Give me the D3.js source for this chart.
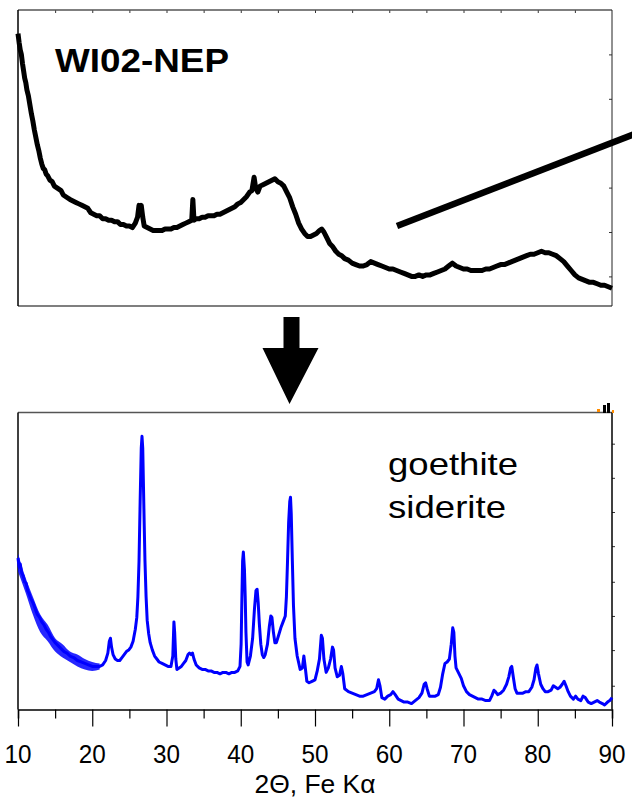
<!DOCTYPE html>
<html lang="en">
  <head>
    <meta charset="utf-8">
    <title>WI02-NEP XRD</title>
    <script src="https://d3js.org/d3.v7.min.js"></script>
    <style>
      body { margin: 0; background: #fff; }
      text { font-family: "Liberation Sans", Arial, sans-serif; }
    </style>
  </head>
  <body>
    <div id="chart"></div>
    <script type="text/javascript">
      // top pattern (black), 2theta vs intensity (relative units)
      const topTheta = [10.0,10.15,10.3,10.45,10.6,10.75,10.9,11.05,11.2,11.4,11.6,11.8,12.0,12.2,12.4,12.6,12.8,13.0,13.2,13.4,13.6,13.8,14.0,14.3,14.6,14.9,15.2,15.5,15.8,16.1,16.4,16.7,17.0,17.4,17.8,18.2,18.6,19.0,19.4,19.8,20.2,20.6,21.0,21.4,21.8,22.2,22.6,23.0,23.4,23.8,24.2,24.6,25.0,25.4,25.8,26.1,26.3,26.45,26.6,26.8,27.0,27.4,27.8,28.2,28.6,29.0,29.4,29.8,30.2,30.6,31.0,31.4,31.8,32.2,32.6,33.0,33.4,33.55,33.7,34.0,34.4,34.8,35.2,35.6,36.0,36.4,36.8,37.2,37.6,38.0,38.4,38.8,39.2,39.6,40.0,40.4,40.8,41.2,41.5,41.8,42.0,42.3,42.6,43.0,43.4,43.8,44.2,44.6,45.0,45.4,45.8,46.2,46.6,47.0,47.4,47.8,48.2,48.6,49.0,49.4,49.8,50.2,50.6,50.9,51.2,51.6,52.0,52.4,52.8,53.2,53.6,54.0,54.5,55.0,55.5,56.0,56.5,57.0,57.5,58.0,58.5,59.0,59.5,60.0,60.5,61.0,61.5,62.0,62.5,63.0,63.5,64.0,64.5,65.0,65.5,66.0,66.5,67.0,67.5,68.0,68.5,69.0,69.5,70.0,70.5,71.0,71.5,72.0,72.5,73.0,73.5,74.0,74.5,75.0,75.5,76.0,76.5,77.0,77.5,78.0,78.5,79.0,79.5,80.0,80.5,81.0,81.5,82.0,82.5,83.0,83.5,84.0,84.5,85.0,85.5,86.0,86.5,87.0,87.5,88.0,88.5,89.0,89.5,90.0];
      const topCounts = [92,89,86.5,85,82,79.5,77,75.5,73,71,68,65,62.5,59.5,57,54.5,52.5,50,48,46.5,46,44.5,44,42.5,42,40.5,40,39.5,39,37.5,37,36.5,36,35.5,35,34.5,34,33.5,33,31.5,31,30.5,30.5,29.5,29.5,29,29,28.5,28.5,27.5,27.5,27,27,26.5,28,30,34,32,34,30,27,26.5,26,25.5,25.5,25.5,25.5,26,26,26,26.5,26.5,27,27.5,28,28.5,29,36,29,29.5,29.5,30,30,30.5,30.5,30.5,31,31,31.5,32,32.5,33,33.5,34.5,35,36,37,38.5,39,43.5,40,38.5,40.5,41,41.5,42,42.5,43,42,41.5,40.5,38.5,36.5,33.5,31,28,26,24.5,23.5,23.5,24,24.5,25.5,26,25,23,21,20,18.5,17.5,17,16,15.5,14.5,14,13.5,13.5,14,15,14.5,14,13.5,13,12.5,12.5,12,11.5,11,10.5,10,10,10.5,10,10.5,10.5,11,11.5,12,12.5,13.5,14.5,13.5,13,12.5,12.5,12,12,12,12,12.5,12.5,13,13.5,14,14,14.5,15,15.5,16,16.5,17,17.5,17.5,18,18.5,18,18,17.5,17,16,15,13.5,12,10.5,9.5,9,8.5,8,8,7.5,7,7,6.5,6];

      // bottom pattern (blue)
      const botTheta = [10.0,10.15,10.3,10.5,10.7,10.9,11.1,11.3,11.5,11.7,12.0,12.3,12.6,12.9,13.2,13.5,13.8,14.1,14.4,14.7,15.0,15.4,15.8,16.2,16.6,17.0,17.5,18.0,18.5,19.0,19.5,20.0,20.5,21.0,21.4,21.8,22.1,22.3,22.45,22.6,22.8,23.1,23.4,23.7,24.0,24.3,24.6,24.9,25.2,25.5,25.8,26.0,26.15,26.3,26.45,26.6,26.7,26.8,26.9,27.0,27.1,27.25,27.4,27.6,27.8,28.1,28.4,28.7,29.0,29.4,29.8,30.2,30.6,30.85,31.0,31.1,31.25,31.4,31.7,32.0,32.3,32.6,32.9,33.1,33.3,33.5,33.7,34.0,34.4,34.8,35.2,35.6,36.0,36.4,36.8,37.2,37.6,38.0,38.4,38.8,39.2,39.6,39.9,40.05,40.15,40.25,40.35,40.5,40.6,40.7,40.85,41.0,41.3,41.6,41.85,42.05,42.2,42.35,42.5,42.7,42.9,43.1,43.3,43.6,43.85,44.05,44.2,44.4,44.6,44.8,45.1,45.4,45.7,46.0,46.15,46.3,46.45,46.6,46.7,46.8,46.95,47.1,47.3,47.6,48.0,48.3,48.5,48.65,48.9,49.2,49.6,50.0,50.3,50.6,50.85,51.0,51.2,51.5,51.8,52.1,52.35,52.5,52.7,53.0,53.3,53.55,53.75,54.0,54.5,55.0,55.5,56.0,56.5,57.0,57.5,58.0,58.3,58.55,58.75,59.0,59.4,59.8,60.2,60.5,60.8,61.2,61.6,62.0,62.5,63.0,63.5,64.0,64.4,64.7,64.9,65.1,65.4,65.8,66.2,66.6,66.9,67.2,67.5,67.8,68.1,68.35,68.55,68.7,68.85,69.0,69.2,69.4,69.7,70.0,70.4,70.8,71.2,71.6,72.0,72.5,73.0,73.5,73.8,74.1,74.3,74.6,75.0,75.4,75.8,76.1,76.35,76.5,76.7,76.95,77.2,77.6,78.0,78.4,78.8,79.2,79.5,79.75,79.9,80.1,80.4,80.7,81.0,81.4,81.8,82.1,82.4,82.7,83.0,83.3,83.55,83.8,84.1,84.4,84.8,85.1,85.4,85.8,86.1,86.4,86.8,87.2,87.6,88.0,88.3,88.7,89.0,89.4,89.7,90.0];
      const botCounts = [51,48,49,46,45,43,42.5,40,39,37.5,36,34,32,31,29.5,28.5,27,26,24.5,23.5,22.5,21.5,20.5,19.5,19,18,17.5,16.5,16,15.5,15,14.5,14.5,14.5,15,16.5,19,23,24,21,18.5,17,16.5,16.5,17.5,18.5,19.5,20,21,23,27,31,38,50,70,88,92,88,75,62,50,38,30,25.5,22.5,20,18,17,16,15.5,15,14.5,14.5,18,29.5,26,17,13.5,14,14.5,15.5,16.5,18.5,19,18.5,19,17,15,14,13.5,13.5,13,13,12.5,12.5,12,12.5,12.5,12,12.5,12.5,13,14.5,22,37,50,53,47,38,26,16,15,18,24,34,40,40.5,36,29,22,18.5,17.5,18.5,22,28,31.5,31,26,22.5,22.5,25,27.5,29.5,31.5,38,50,63,70,71.5,66,50,35,24,18,13.5,14,18,15,9.5,9,9.5,10,13,17,25,24,17,12.5,14,17,21,20,14,11,11.5,14.5,12,7,6,5.5,5,4.5,4.5,5,5.5,6,7,10,8,4,3.5,4.5,5,6,5,3.5,3,2.5,2.5,2,3,4,5.5,8.5,9,7,4.5,4.5,4.5,5,7.5,12,15.5,16,17,22,27.5,26,18,14,13,12,10.5,8,6,5,4.5,4,3.5,3.5,3,3,4.5,6.5,6,5,5.5,6.5,8.5,11,14,14.5,11,7,5.5,5.5,5.5,6,6,7.5,10,14,15,12,8.5,7,6,6,6.5,8,7.5,7,7.5,8.5,9.5,8,6,4.5,3.5,4.5,3.5,3,4.5,4,2.5,2,2.5,3,2.5,2,1.5,2.5,3,4];

      // spread of the noisy low-angle tail of the blue pattern
      const botBandTheta = [10, 11, 12, 13, 14, 15, 16, 17, 18, 19, 20, 21];
      const botBandHi = [52.5, 44.5, 38, 32, 28.5, 24, 22, 19.5, 18.5, 17, 16, 15.5];
      const botBandLo = [46.5, 39.5, 32, 26, 23, 19.5, 17.5, 16, 14.5, 13.5, 13, 13.5];

      const xTicks = [10, 15, 20, 25, 30, 35, 40, 45, 50, 55, 60, 65, 70, 75, 80, 85, 90];
      const xLabels = [10, 20, 30, 40, 50, 60, 70, 80, 90];

      const W = 632, H = 800;
      const svg = d3.select("#chart").append("svg")
          .attr("width", W)
          .attr("height", H);

      const x = d3.scaleLinear().domain([10, 90]).range([18, 612]);
      const yTop = d3.scaleLinear().domain([0, 100]).range([306, 10]);
      const yBot = d3.scaleLinear().domain([0, 100]).range([709.5, 412.5]);

      // ---- top panel ----
      const topPanel = svg.append("g");

      topPanel.append("g")
          .attr("transform", "translate(0,10)")
          .call(d3.axisBottom(x).tickValues(xTicks.slice(1, -1)).tickSize(3).tickFormat(""))
          .call(g => g.select(".domain").remove())
          .selectAll("line").attr("stroke", "#333");

      topPanel.append("g")
          .attr("transform", "translate(612,0)")
          .call(d3.axisLeft(yTop).tickValues([10, 25, 40, 55, 70, 85]).tickSize(3).tickFormat(""))
          .call(g => g.select(".domain").remove())
          .selectAll("line").attr("stroke", "#333");

      topPanel.append("line").attr("x1", 18).attr("x2", 612).attr("y1", 10).attr("y2", 10)
          .attr("stroke", "#555").attr("stroke-width", 1.5);
      topPanel.append("line").attr("x1", 18).attr("x2", 612).attr("y1", 306).attr("y2", 306)
          .attr("stroke", "#555").attr("stroke-width", 1.5);
      topPanel.append("line").attr("x1", 18).attr("x2", 18).attr("y1", 10).attr("y2", 306)
          .attr("stroke", "#000").attr("stroke-width", 1.5);
      topPanel.append("line").attr("x1", 612).attr("x2", 612).attr("y1", 10).attr("y2", 306)
          .attr("stroke", "#222").attr("stroke-width", 1);

      const lineTop = d3.line()
          .x((d, i) => x(topTheta[i]))
          .y(d => yTop(d));

      topPanel.append("path")
          .datum(topCounts)
          .attr("fill", "none")
          .attr("stroke", "#000")
          .attr("stroke-width", 5)
          .attr("stroke-linejoin", "round")
          .attr("d", lineTop);

      topPanel.append("text")
          .attr("x", 55)
          .attr("y", 72)
          .attr("font-size", 34)
          .attr("font-weight", "bold")
          .attr("textLength", 174)
          .attr("lengthAdjust", "spacingAndGlyphs")
          .text("WI02-NEP");

      // thick pointer line running off the right edge
      svg.append("line")
          .attr("x1", 397).attr("y1", 226)
          .attr("x2", 650).attr("y2", 128)
          .attr("stroke", "#000")
          .attr("stroke-width", 6.5);

      // arrow between panels
      svg.append("path")
          .attr("d", "M283.5,317 L299.5,317 L299.5,348 L318.5,348 L289.5,404 L262.5,348 L283.5,348 Z")
          .attr("fill", "#000");

      // ---- bottom panel ----
      const botPanel = svg.append("g");

      botPanel.append("g")
          .attr("transform", "translate(612,0)")
          .call(d3.axisRight(yBot).tickValues([8, 20, 31.5, 43, 55, 66.5, 78, 89.5]).tickSize(3).tickFormat(""))
          .call(g => g.select(".domain").remove())
          .selectAll("line").attr("stroke", "#333");

      botPanel.append("line").attr("x1", 18).attr("x2", 612).attr("y1", 412.5).attr("y2", 412.5)
          .attr("stroke", "#555").attr("stroke-width", 1.5);
      botPanel.append("line").attr("x1", 18).attr("x2", 18).attr("y1", 412.5).attr("y2", 709.5)
          .attr("stroke", "#000").attr("stroke-width", 1.5);
      botPanel.append("line").attr("x1", 612).attr("x2", 612).attr("y1", 412.5).attr("y2", 709.5)
          .attr("stroke", "#000").attr("stroke-width", 1.5);

      // small cropped legend remnants at the top right corner
      svg.append("rect").attr("x", 597).attr("y", 409).attr("width", 3).attr("height", 3).attr("fill", "#ff8c00");
      svg.append("rect").attr("x", 603).attr("y", 405).attr("width", 3).attr("height", 8).attr("fill", "#000");
      svg.append("rect").attr("x", 607).attr("y", 403).attr("width", 3).attr("height", 10).attr("fill", "#000");
      svg.append("rect").attr("x", 612).attr("y", 410).attr("width", 2).attr("height", 3).attr("fill", "#ff8c00");

      const bandBot = d3.area()
          .x((d, i) => x(botBandTheta[i]))
          .y0((d, i) => yBot(botBandLo[i]))
          .y1((d, i) => yBot(botBandHi[i]))
          .curve(d3.curveMonotoneX);

      botPanel.append("path")
          .datum(botBandTheta)
          .attr("fill", "#0000ff")
          .attr("fill-opacity", 0.85)
          .attr("d", bandBot);

      const lineBot = d3.line()
          .x((d, i) => x(botTheta[i]))
          .y(d => yBot(d));

      botPanel.append("path")
          .datum(botCounts)
          .attr("fill", "none")
          .attr("stroke", "#0000ff")
          .attr("stroke-width", 3)
          .attr("stroke-linejoin", "round")
          .attr("d", lineBot);

      // x axis
      const xAxis = botPanel.append("g")
          .attr("transform", "translate(0,709.5)")
          .call(d3.axisBottom(x).tickValues(xTicks).tickSizeOuter(0)
              .tickSize(9).tickFormat(""));
      xAxis.select(".domain").attr("stroke", "#000").attr("stroke-width", 1.5);
      xAxis.selectAll(".tick line")
          .attr("stroke", "#000")
          .attr("stroke-width", 1.2)
          .attr("y2", d => xLabels.includes(d) ? 17 : 9);

      botPanel.selectAll("text.xlab")
          .data(xLabels)
          .join("text")
          .attr("class", "xlab")
          .attr("x", d => x(d))
          .attr("y", 763)
          .attr("text-anchor", "middle")
          .attr("font-size", 25)
          .attr("textLength", 27)
          .attr("lengthAdjust", "spacingAndGlyphs")
          .text(d => d);

      botPanel.append("text")
          .attr("x", 315)
          .attr("y", 793)
          .attr("text-anchor", "middle")
          .attr("font-size", 25)
          .attr("textLength", 121)
          .attr("lengthAdjust", "spacingAndGlyphs")
          .text("2\u0398, Fe K\u03b1");

      botPanel.append("text")
          .attr("x", 388)
          .attr("y", 475)
          .attr("font-size", 32)
          .attr("textLength", 130)
          .attr("lengthAdjust", "spacingAndGlyphs")
          .text("goethite");
      botPanel.append("text")
          .attr("x", 388)
          .attr("y", 518)
          .attr("font-size", 32)
          .attr("textLength", 118)
          .attr("lengthAdjust", "spacingAndGlyphs")
          .text("siderite");
    </script>
  </body>
</html>
